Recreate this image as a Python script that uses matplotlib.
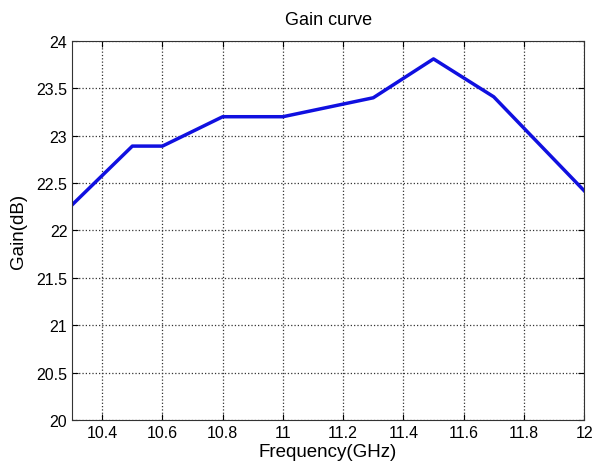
import matplotlib
matplotlib.use("Agg")
import matplotlib.pyplot as plt

# Data
freq = [10.3, 10.5, 10.6, 10.8, 11.0, 11.3, 11.5, 11.7, 12.0]
gain = [22.27, 22.89, 22.89, 23.2, 23.2, 23.4, 23.81, 23.41, 22.42]
xticks = [10.4, 10.6, 10.8, 11, 11.2, 11.4, 11.6, 11.8, 12]
xtick_labels = ["10.4", "10.6", "10.8", "11", "11.2", "11.4", "11.6", "11.8", "12"]
yticks = [20, 20.5, 21, 21.5, 22, 22.5, 23, 23.5, 24]
ytick_labels = ["20", "20.5", "21", "21.5", "22", "22.5", "23", "23.5", "24"]

plt.rcParams['font.family'] = ['Liberation Sans', 'DejaVu Sans']

fig = plt.figure(figsize=(5.96, 4.64), dpi=100)
ax = fig.add_axes([0.121, 0.0927, 0.859, 0.817])

ax.plot(freq, gain, color='#1010e0', linewidth=2.5)

ax.set_xlim(10.3, 12)
ax.set_ylim(20, 24)
ax.set_xticks(xticks)
ax.set_xticklabels(xtick_labels)
ax.set_yticks(yticks)
ax.set_yticklabels(ytick_labels)
ax.tick_params(direction='in', labelsize=11.5, length=4, top=True, right=True)

ax.grid(True, color='#333333', linestyle=':', linewidth=0.9)

ax.set_title("Gain curve", fontsize=13, pad=12)
ax.set_xlabel("Frequency(GHz)", fontsize=13.5, labelpad=2)
ax.set_ylabel("Gain(dB)", fontsize=13.5, labelpad=7)

for s in ax.spines.values():
    s.set_color('#333333')

fig.savefig("out.png", dpi=100)
